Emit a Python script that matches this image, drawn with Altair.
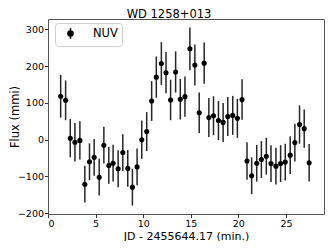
import altair as alt
import pandas as pd

time_min = [1.33, 1.85, 2.34, 2.83, 3.35, 3.87, 4.36, 4.85, 5.38, 5.87, 6.39, 6.84,
            7.37, 7.86, 8.38, 8.87, 9.36, 9.85, 10.37, 10.89, 11.38, 11.91, 12.40,
            12.88, 13.41, 13.90, 14.39, 14.91, 15.43, 15.89, 16.41, 16.90, 17.39,
            17.91, 18.40, 18.89, 19.41, 19.90, 20.39, 20.91, 21.40, 21.93, 22.42,
            22.94, 23.43, 23.95, 24.44, 24.93, 25.45, 25.94, 26.43, 26.92, 27.44]
flux = [118, 107, 4, -7, -2, -121, -60, -48, -102, -15, -70, -64,
        -79, -35, -78, -129, -74, 0, 22, 105, 170, 207, 182,
        108, 184, 110, 117, 247, 203, 73, 208, 60, 65,
        52, 47, 63, 66, 58, 109, -58, -98, -64, -54,
        -45, -65, -72, -65, -61, -42, -8, 41, 30, -63]
flux_err = [58, 54, 52, 52, 52, 50, 50, 50, 50, 50, 50, 50,
            50, 50, 50, 50, 50, 52, 53, 54, 56, 58, 56,
            55, 56, 55, 55, 58, 56, 55, 56, 53, 53,
            53, 53, 53, 53, 53, 55, 51, 50, 50, 50,
            50, 50, 50, 50, 50, 51, 51, 52, 52, 51]
band = "NUV"
title_text = ["WD 1258+013"]
x_ticks = [0, 5, 10, 15, 20, 25]
y_ticks = [-200, -100, 0, 100, 200, 300]

df = pd.DataFrame({
    "t": time_min,
    "f": flux,
    "lo": [a - b for a, b in zip(flux, flux_err)],
    "hi": [a + b for a, b in zip(flux, flux_err)],
    "band": [band] * len(time_min),
})

font = "DejaVu Sans"
xs = alt.Scale(domain=[0, 29], nice=False, zero=False)
ys = alt.Scale(domain=[-202, 328], nice=False, zero=False)

base = alt.Chart(df)

bars = base.mark_rule(color="#262626", strokeWidth=1.5).encode(
    x=alt.X("t:Q", scale=xs),
    y=alt.Y("lo:Q", scale=ys),
    y2="hi:Q",
)

legend_sym = ("M-0.45,0 A0.45,0.45 0 1,1 0.45,0 A0.45,0.45 0 1,1 -0.45,0 Z "
              "M0,-0.93 L0,0.93")

points = base.mark_circle(size=26, opacity=1).encode(
    x=alt.X("t:Q", scale=xs,
            axis=alt.Axis(title="JD - 2455644.17 (min.)", values=x_ticks, tickCount=6,
                          labelOverlap=False, titleY=25, titleBaseline="alphabetic",
                          titleFontSize=11)),
    y=alt.Y("f:Q", scale=ys,
            axis=alt.Axis(title="Flux (mmi)", values=y_ticks, tickCount=6,
                          labelOverlap=False, titleX=-30, titleBaseline="alphabetic")),
    color=alt.Color("band:N", scale=alt.Scale(range=["black"]),
                    legend=alt.Legend(title=None, orient="none", legendX=7, legendY=4,
                                      symbolType=legend_sym, symbolSize=130,
                                      symbolStrokeWidth=1.5, symbolStrokeColor="black",
                                      symbolOffset=5,
                                      labelFontSize=11.5, labelFont=font, labelColor="black",
                                      padding=4, labelOffset=16,
                                      strokeColor="#d0d0d0", fillColor="white",
                                      cornerRadius=3)),
)

title = alt.Chart(pd.DataFrame({"title": title_text})).mark_text(
    font=font, fontSize=11.5, color="black", align="center", baseline="alphabetic"
).encode(text="title:N", x=alt.value(121), y=alt.value(-1.5))

chart = alt.layer(bars, points, title).properties(
    width=276, height=195,
    autosize="none",
    padding={"left": 40, "top": 11, "right": 1, "bottom": 27},
).configure_view(
    stroke="#555555", strokeWidth=1
).configure_axis(
    grid=False, domain=False,
    tickColor="#333333", tickSize=3.5,
    labelFont=font, labelFontSize=9.5, labelColor="black",
    titleFont=font, titleFontSize=11.5, titleFontWeight="normal", titleColor="black",
    labelPadding=1,
)

chart.save("out.html", embed_options={"renderer": "svg", "actions": False})
